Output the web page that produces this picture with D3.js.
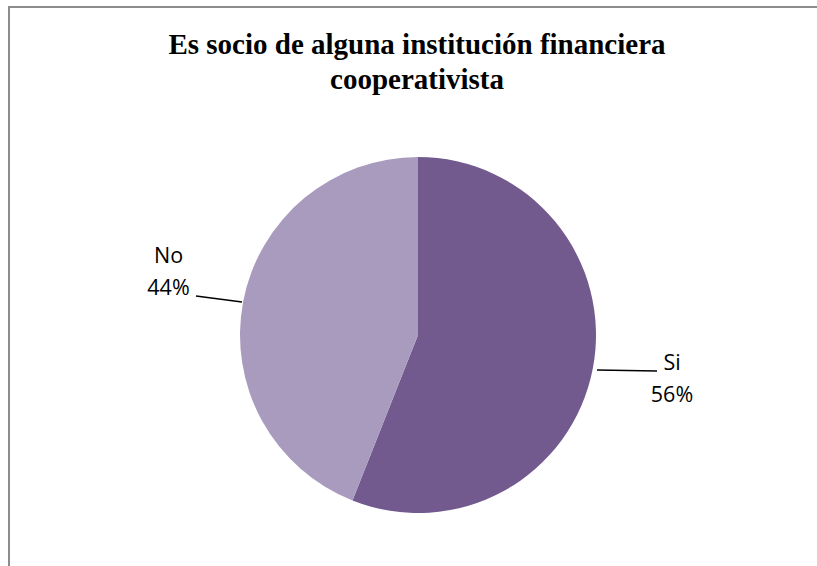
<!DOCTYPE html>
<html><head><meta charset="utf-8">
<script src="https://cdn.jsdelivr.net/npm/d3@7"></script>
<style>body{margin:0;background:#fff}</style>
</head><body>
<svg id="c" width="817" height="566"></svg>
<script>
const categories = ["Si", "No"];
const values = [56, 44];
const colors = ["#725A8F", "#A99BBE"];
const title = ["Es socio de alguna institución financiera", "cooperativista"];

const svg = d3.select("#c");
svg.append("rect").attr("x", 9).attr("y", 7).attr("width", 830).attr("height", 600)
  .attr("fill", "#fff").attr("stroke", "#8c8c8c").attr("stroke-width", 2);

const t = svg.append("text").attr("text-anchor", "middle")
  .attr("font-family", "'Liberation Serif','Times New Roman',serif")
  .attr("font-weight", "bold").attr("font-size", 29).attr("fill", "#000");
title.forEach((s, i) => t.append("tspan").attr("x", 417).attr("y", 54 + i * 35).text(s));

const cx = 418, cy = 335, r = 178;
const pie = d3.pie().sort(null).value(d => d)(values);
const arc = d3.arc().innerRadius(0).outerRadius(r);
const g = svg.append("g").attr("transform", `translate(${cx},${cy})`);
g.selectAll("path").data(pie).join("path").attr("d", arc)
  .attr("fill", (d, i) => colors[i]);

// labels
const total = d3.sum(values);
const lab = [
  {line: [[597 - cx, 370 - cy], [657 - cx, 371 - cy]], x: 672, y: 370},
  {line: [[242 - cx, 302 - cy], [196 - cx, 296 - cy]], x: 168.5, y: 263}
];
lab.forEach((L, i) => {
  svg.append("path").attr("transform", `translate(${cx},${cy})`)
    .attr("d", d3.line()(L.line)).attr("stroke", "#000").attr("stroke-width", 1.5).attr("fill", "none");
  const tx = svg.append("text").attr("text-anchor", "middle")
    .attr("font-family", "'Open Sans','Liberation Sans',sans-serif").attr("font-size", 21.5).attr("fill", "#000");
  tx.append("tspan").attr("x", L.x).attr("y", L.y).text(categories[i]);
  tx.append("tspan").attr("x", L.x).attr("y", L.y + 32).text(Math.round(values[i] / total * 100) + "%");
});
</script>
</body></html>
